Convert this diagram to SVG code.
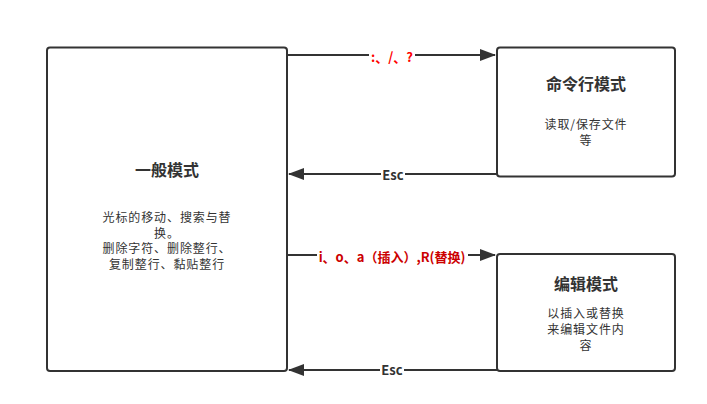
<svg xmlns="http://www.w3.org/2000/svg" width="707" height="404" viewBox="0 0 707 404">
<style>
.box{fill:#fff;stroke:#333;stroke-width:2}
.edge{fill:none;stroke:#333;stroke-width:2}
text{font-family:"Microsoft YaHei","Noto Sans CJK SC","Noto Sans",sans-serif;text-anchor:middle;fill:#333}
.title{font-size:16px;font-weight:bold}
.body{font-size:12px;letter-spacing:0.9px}
.lbl{font-size:13px;font-weight:bold}
.lblbg{fill:#fff}
</style>
<defs>
<marker id="arr" markerWidth="8" markerHeight="6" refX="7.5" refY="3" orient="auto" markerUnits="strokeWidth">
<path d="M0,0 L8,3 L0,6 Z" fill="#333"/>
</marker>
</defs>
<rect width="707" height="404" fill="#fff"/>
<g id="node-normal">
<rect class="box" x="47" y="47.5" width="240" height="323.5" rx="3"/>
<text class="title" x="167" y="176">一般模式</text>
<text class="body" x="167" y="222">光标的移动、搜索与替</text>
<text class="body" x="167" y="237.7">换。</text>
<text class="body" x="167" y="253.4">删除字符、删除整行、</text>
<text class="body" x="167" y="269.1">复制整行、黏贴整行</text>
</g>
<g id="node-command">
<rect class="box" x="497" y="47.5" width="178" height="129" rx="3"/>
<text class="title" x="586" y="90">命令行模式</text>
<text class="body" x="586" y="129">读取/保存文件</text>
<text class="body" x="586" y="145">等</text>
</g>
<g id="node-edit">
<rect class="box" x="497" y="254" width="178" height="117" rx="3"/>
<text class="title" x="586" y="290">编辑模式</text>
<text class="body" x="586" y="318">以插入或替换</text>
<text class="body" x="586" y="334">来编辑文件内</text>
<text class="body" x="586" y="350">容</text>
</g>
<g id="connectors">
<path class="edge" d="M287,55 L495,55" marker-end="url(#arr)"/>
<path class="edge" d="M497,174 L289,174" marker-end="url(#arr)"/>
<path class="edge" d="M287,255 L495,255" marker-end="url(#arr)"/>
<path class="edge" d="M497,370 L289,370" marker-end="url(#arr)"/>
<rect class="lblbg" x="369" y="49" width="46" height="14"/>
<text class="lbl" x="392" y="62" style="fill:#ff0000">:、/、?</text>
<rect class="lblbg" x="381" y="168" width="24" height="14"/>
<text class="lbl" x="393" y="180">Esc</text>
<rect class="lblbg" x="317" y="249" width="151" height="15"/>
<text class="lbl" x="392" y="262" style="fill:#cc0000">i、o、a（插入）,R(替换)</text>
<rect class="lblbg" x="380" y="364" width="24" height="14"/>
<text class="lbl" x="392" y="375">Esc</text>
</g>
</svg>
